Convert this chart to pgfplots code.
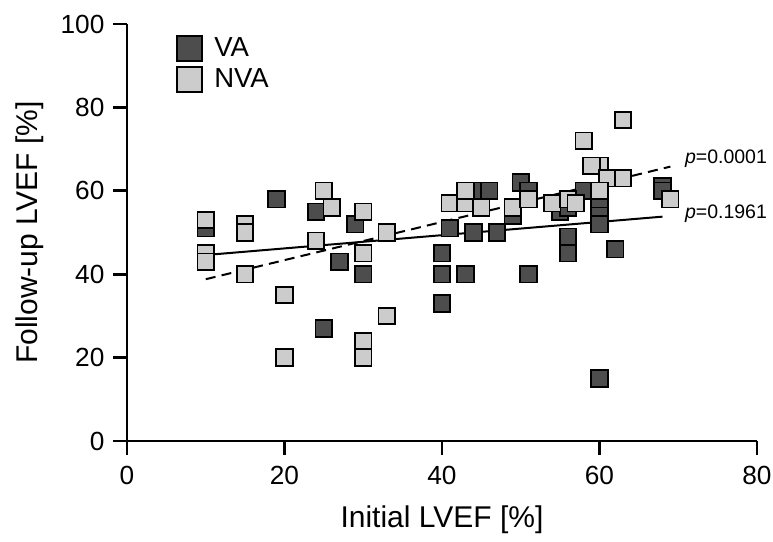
\documentclass[border=0pt]{standalone}
\usepackage{fontspec}
\setmainfont{Liberation Sans}
\usepackage{pgfplots}
\pgfplotsset{compat=1.18}

\definecolor{vacol}{HTML}{4D4D4D}
\definecolor{nvacol}{HTML}{CCCCCC}

\begin{document}
\begin{tikzpicture}
\begin{axis}[
    scale only axis,
    width=252pt, height=166.8pt,
    xmin=0, xmax=80, ymin=0, ymax=100,
    axis lines=left,
    axis line style={line width=1.1pt, -},
    xtick={0,20,...,80}, ytick={0,20,...,100},
    tick align=outside,
    major tick length=5.5pt,
    tick style={line width=1.1pt, black},
    /pgf/number format/assume math mode=true,
    ticklabel style={font=\fontsize{10.5}{12}\selectfont},
    xticklabel style={yshift=-1pt},
    label style={font=\fontsize{12}{14}\selectfont},
    xlabel style={yshift=-1.5pt},
    xlabel={Initial LVEF [\%]},
    ylabel={Follow-up LVEF [\%]},
    clip=false,
    legend style={at={(rel axis cs:0.077,0.972)}, anchor=north west,
        draw=none, fill=none, font=\fontsize{11}{13}\selectfont,
        row sep=2.4pt, inner sep=0pt, nodes={inner sep=0pt}},
    legend cell align=left,
    legend image code/.code={%
        \draw[#1, mark size=5pt] plot coordinates {(5pt,0pt)};
        \path (0pt,0pt) (14.6pt,0pt);},
]
% regression lines
\addplot[black, line width=0.8pt, no marks, forget plot] coordinates {(10,44.6) (68,53.8)};
\addplot[black, line width=0.8pt, no marks, dash pattern=on 4pt off 2.5pt, forget plot] coordinates {(10,38.8) (69,65.8)};

% VA
\addplot[only marks, mark=square*, mark size=3.3pt, draw=black, fill=vacol, line width=0.7pt] coordinates {
    (10,51) (19,58) (24,55) (25,27) (27,43) (29,52) (30,40)
    (40,45) (40,40) (40,33) (41,51) (43,40) (44,50) (45,60) (46,60)
    (47,50) (49,54) (50,62) (51,60) (51,40) (55,55) (56,56) (56,49)
    (56,45) (58,60) (60,56) (60,54) (60,52) (60,15) (62,46) (68,61) (68,60)
};
\addlegendentry{VA}

% NVA
\addplot[only marks, mark=square*, mark size=3.3pt, draw=black, fill=nvacol, line width=0.7pt] coordinates {
    (10,53) (10,45) (10,43) (15,52) (15,50) (15,40) (20,35) (20,20)
    (24,48) (25,60) (26,56) (30,55) (30,45) (30,24) (30,20) (33,50)
    (33,30) (41,57) (43,57) (43,60) (45,56) (49,56) (51,58) (54,57)
    (56,58) (57,57) (58,72) (60,66) (59,66) (61,63) (63,63) (63,77)
    (60,60) (69,58)
};
\addlegendentry{NVA}

\node[anchor=west, inner sep=0pt, font=\fontsize{7.8}{9}\selectfont] at (axis cs:70.8,67.6) {\textit{p}=0.0001};
\node[anchor=west, inner sep=0pt, font=\fontsize{7.8}{9}\selectfont] at (axis cs:70.8,54.4) {\textit{p}=0.1961};
\end{axis}
\pgfresetboundingbox
\path (-50.8pt,-40pt) rectangle (258.4pt,176.4pt);
\end{tikzpicture}
\end{document}
